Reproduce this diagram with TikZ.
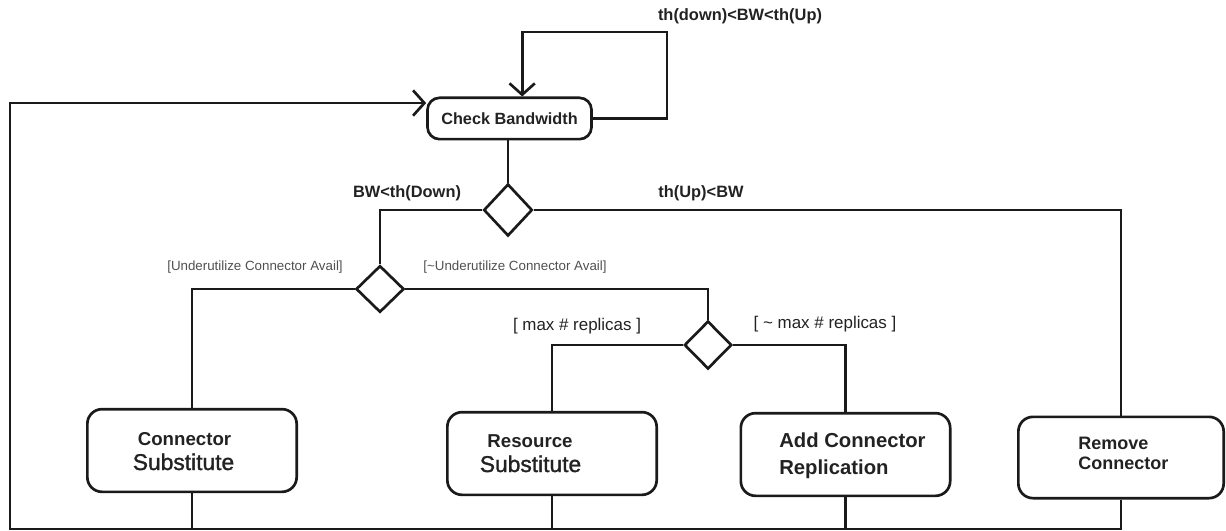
\documentclass[tikz,border=0pt]{standalone}
\usepackage{fontspec}
\setmainfont{Liberation Sans}
\newfontfamily\mediumsans[FakeBold=1.3]{Liberation Sans}
\usetikzlibrary{arrows.meta,shapes.geometric,calc}
\definecolor{ink}{HTML}{1A1A1A}
\definecolor{txt}{HTML}{222222}
\definecolor{guardgray}{HTML}{505050}
\begin{document}
\begin{tikzpicture}[x=0.75pt,y=-0.75pt,
  flow/.style={draw=ink, line width=2pt},
  openarrow/.style={-{Straight Barb[length=8.5pt,width=19pt]}},
  act/.style={draw=ink, line width=2pt, rounded corners=11pt,
    minimum width=157pt, minimum height=62pt, inner sep=0pt},
  dec/.style={draw=ink, line width=2pt, diamond, inner sep=0pt},
  lbl/.style={text=txt, inner sep=0pt, font=\bfseries\fontsize{12.3}{14}\selectfont},
  guard/.style={text=guardgray, inner sep=0pt, font=\fontsize{10}{12}\selectfont},
  rep/.style={text=txt, inner sep=0pt, font=\fontsize{12.7}{15}\selectfont},
  small/.style={text=txt, inner sep=0pt, font=\bfseries\fontsize{14}{16}\selectfont},
  big/.style={text=txt, inner sep=0pt, font=\mediumsans\fontsize{17.1}{19}\selectfont},
  bigbold/.style={text=txt, inner sep=0pt, font=\bfseries\fontsize{15.2}{17}\selectfont},
  midbold/.style={text=txt, inner sep=0pt, font=\bfseries\fontsize{13.5}{16}\selectfont}]
\useasboundingbox (0,0) rectangle (1226,531);

% activities
\node[act, minimum width=123pt, minimum height=31pt, rounded corners=9pt,
      text=txt, font=\bfseries\fontsize{12.2}{14}\selectfont] (cb) at (509.5,118.5) {Check Bandwidth};
\node[act] (cs)  at (192,450.5) {};
\node[act] (rs)  at (552,453.5) {};
\node[act] (acr) at (845.5,454.5) {};
\node[act, minimum width=154pt, minimum height=61pt] (rc) at (1121,457.5) {};

% activity texts
\node[small, anchor=base] (cs1) at (184.5,445) {Connector};
\node[big, anchor=base]   (cs2) at (183.5,470) {Substitute};
\node[small, anchor=base] (rs1) at (530,447) {Resource};
\node[big, anchor=base]   (rs2) at (530.5,472) {Substitute};
\node[bigbold, anchor=base west] (acr1) at (779,447) {Add Connector};
\node[bigbold, anchor=base west] (acr2) at (779,474) {Replication};
\node[midbold, anchor=base west] (rc1) at (1078,449) {Remove};
\node[midbold, anchor=base west] (rc2) at (1078,469) {Connector};

% decisions
\node[dec, minimum width=36.5pt, minimum height=39pt] (d1) at (508,210) {};
\node[dec, minimum width=36pt, minimum height=35pt]   (d2) at (380,289) {};
\node[dec, minimum width=35.5pt, minimum height=36pt] (d3) at (708,345) {};

% guards
\node[lbl] (g0) at (740,16) {th(down)<BW<th(Up)};
\node[lbl] (g1) at (407,193) {BW<th(Down)};
\node[lbl] (g2) at (701,193) {th(Up)<BW};
\node[guard] (g3) at (255,267) {[Underutilize Connector Avail]};
\node[guard] (g4) at (515,267) {[\textasciitilde Underutilize Connector Avail]};
\node[rep] (g5) at (577,326) {[ max \# replicas ]};
\node[rep] (g6) at (825,324) {[ \textasciitilde\ max \# replicas ]};

% control flow
\coordinate (loopTR) at (667,32);
\coordinate (bl) at (10,529);
\draw[flow, openarrow] (cb.east) -| (loopTR) -| ([xshift=9.5pt]cb.north);
\draw[flow] (cb.south -| d1.north) -- (d1.north);
\draw[flow] (d1.west) -| (d2.north);
\draw[flow] (d1.east) -| (rc.north);
\draw[flow] (d2.west) -| (cs.north);
\draw[flow] (d2.east) -| (d3.north);
\draw[flow] (d3.west) -| (rs.north);
\draw[flow] (d3.east) -| (acr.north);
\draw[flow] (cs.south) -- (cs.south |- bl);
\draw[flow] (rs.south) -- (rs.south |- bl);
\draw[flow] (acr.south) -- (acr.south |- bl);
\draw[flow, openarrow] (rc.south) |- (bl) |- ([yshift=11.6pt]cb.west);
\end{tikzpicture}
\end{document}
